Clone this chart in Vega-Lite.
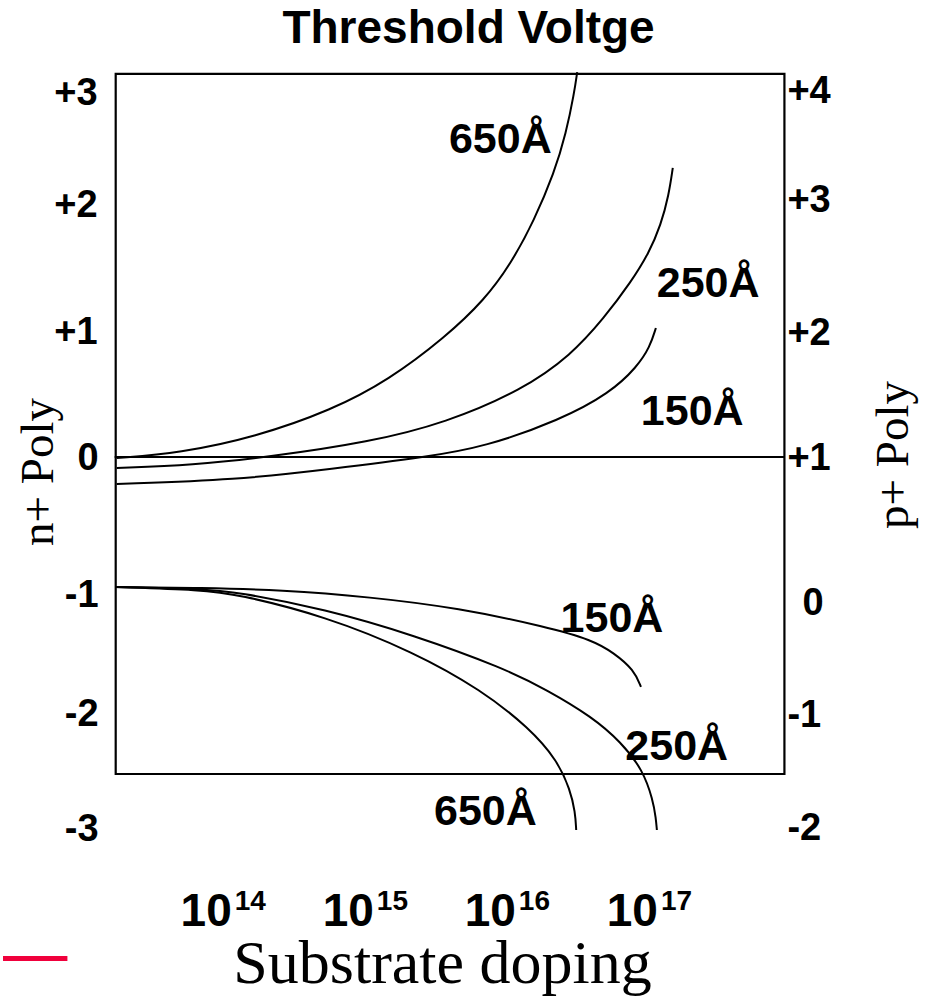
{
  "$schema": "https://vega.github.io/schema/vega-lite/v6.json",
  "width": 930,
  "height": 997,
  "autosize": {"type": "fit", "contains": "padding"},
  "padding": 0,
  "background": "#ffffff",
  "config": {"view": {"stroke": null}},
  "datasets": {
    "box": [{"lx": 13.218, "lx2": 17.926, "v": 3.016, "v2": -2.496}],
    "zero": [{"lx": 13.211, "lx2": 17.926, "v": 0}],
    "red": [{"lx": 12.4246, "lx2": 12.878, "v": -3.949}],
    "curves": [
      {"series": "650 upper", "lx": 13.225, "v": -0.008},
      {"series": "650 upper", "lx": 13.667, "v": 0.031},
      {"series": "650 upper", "lx": 14.2, "v": 0.157},
      {"series": "650 upper", "lx": 14.74, "v": 0.37},
      {"series": "650 upper", "lx": 15.14, "v": 0.606},
      {"series": "650 upper", "lx": 15.54, "v": 0.945},
      {"series": "650 upper", "lx": 15.814, "v": 1.236},
      {"series": "650 upper", "lx": 16.004, "v": 1.528},
      {"series": "650 upper", "lx": 16.165, "v": 1.866},
      {"series": "650 upper", "lx": 16.305, "v": 2.236},
      {"series": "650 upper", "lx": 16.389, "v": 2.551},
      {"series": "650 upper", "lx": 16.446, "v": 2.866},
      {"series": "650 upper", "lx": 16.467, "v": 3.031},
      {"series": "250 upper", "lx": 13.225, "v": -0.087},
      {"series": "250 upper", "lx": 13.758, "v": -0.063},
      {"series": "250 upper", "lx": 14.298, "v": 0.0},
      {"series": "250 upper", "lx": 15.007, "v": 0.118},
      {"series": "250 upper", "lx": 15.54, "v": 0.268},
      {"series": "250 upper", "lx": 16.081, "v": 0.528},
      {"series": "250 upper", "lx": 16.425, "v": 0.803},
      {"series": "250 upper", "lx": 16.656, "v": 1.094},
      {"series": "250 upper", "lx": 16.846, "v": 1.378},
      {"series": "250 upper", "lx": 16.972, "v": 1.606},
      {"series": "250 upper", "lx": 17.056, "v": 1.827},
      {"series": "250 upper", "lx": 17.112, "v": 2.063},
      {"series": "250 upper", "lx": 17.14, "v": 2.276},
      {"series": "150 upper", "lx": 13.225, "v": -0.213},
      {"series": "150 upper", "lx": 14.067, "v": -0.181},
      {"series": "150 upper", "lx": 14.74, "v": -0.094},
      {"series": "150 upper", "lx": 15.407, "v": 0.0},
      {"series": "150 upper", "lx": 15.814, "v": 0.079},
      {"series": "150 upper", "lx": 16.347, "v": 0.291},
      {"series": "150 upper", "lx": 16.698, "v": 0.504},
      {"series": "150 upper", "lx": 16.888, "v": 0.709},
      {"series": "150 upper", "lx": 16.979, "v": 0.866},
      {"series": "150 upper", "lx": 17.021, "v": 1.016},
      {"series": "150 lower", "lx": 13.218, "v": -1.024},
      {"series": "150 lower", "lx": 13.828, "v": -1.031},
      {"series": "150 lower", "lx": 14.382, "v": -1.047},
      {"series": "150 lower", "lx": 15.007, "v": -1.102},
      {"series": "150 lower", "lx": 15.632, "v": -1.189},
      {"series": "150 lower", "lx": 16.256, "v": -1.339},
      {"series": "150 lower", "lx": 16.572, "v": -1.441},
      {"series": "150 lower", "lx": 16.726, "v": -1.543},
      {"series": "150 lower", "lx": 16.867, "v": -1.677},
      {"series": "150 lower", "lx": 16.916, "v": -1.811},
      {"series": "250 lower", "lx": 13.218, "v": -1.024},
      {"series": "250 lower", "lx": 13.828, "v": -1.039},
      {"series": "250 lower", "lx": 14.067, "v": -1.063},
      {"series": "250 lower", "lx": 14.691, "v": -1.197},
      {"series": "250 lower", "lx": 15.316, "v": -1.402},
      {"series": "250 lower", "lx": 15.947, "v": -1.661},
      {"series": "250 lower", "lx": 16.256, "v": -1.835},
      {"series": "250 lower", "lx": 16.572, "v": -2.047},
      {"series": "250 lower", "lx": 16.775, "v": -2.244},
      {"series": "250 lower", "lx": 16.93, "v": -2.465},
      {"series": "250 lower", "lx": 17.0, "v": -2.701},
      {"series": "250 lower", "lx": 17.021, "v": -2.843},
      {"series": "250 lower", "lx": 17.028, "v": -2.937},
      {"series": "650 lower", "lx": 13.218, "v": -1.024},
      {"series": "650 lower", "lx": 13.828, "v": -1.047},
      {"series": "650 lower", "lx": 14.067, "v": -1.079},
      {"series": "650 lower", "lx": 14.691, "v": -1.252},
      {"series": "650 lower", "lx": 15.316, "v": -1.535},
      {"series": "650 lower", "lx": 15.793, "v": -1.835},
      {"series": "650 lower", "lx": 16.13, "v": -2.134},
      {"series": "650 lower", "lx": 16.326, "v": -2.386},
      {"series": "650 lower", "lx": 16.418, "v": -2.622},
      {"series": "650 lower", "lx": 16.453, "v": -2.795},
      {"series": "650 lower", "lx": 16.46, "v": -2.937}
    ],
    "leftTicks": [
      {"label": "+3", "lx": 13.091, "v": 2.772},
      {"label": "+2", "lx": 13.091, "v": 1.89},
      {"label": "+1", "lx": 13.091, "v": 0.89},
      {"label": "0", "lx": 13.098, "v": -0.102},
      {"label": "-1", "lx": 13.098, "v": -1.181},
      {"label": "-2", "lx": 13.098, "v": -2.118},
      {"label": "-3", "lx": 13.098, "v": -3.024}
    ],
    "rightTicks": [
      {"label": "+4", "lx": 17.947, "v": 2.787},
      {"label": "+3", "lx": 17.947, "v": 1.93},
      {"label": "+2", "lx": 17.947, "v": 0.882},
      {"label": "+1", "lx": 17.947, "v": -0.102},
      {"label": "0", "lx": 18.053, "v": -1.244},
      {"label": "-1", "lx": 17.947, "v": -2.126},
      {"label": "-2", "lx": 17.947, "v": -3.016}
    ],
    "curveLabels": [
      {"label": "650Å", "lx": 15.926, "v": 2.394},
      {"label": "250Å", "lx": 17.389, "v": 1.26},
      {"label": "150Å", "lx": 17.277, "v": 0.252},
      {"label": "150Å", "lx": 16.712, "v": -1.378},
      {"label": "250Å", "lx": 17.168, "v": -2.386},
      {"label": "650Å", "lx": 15.821, "v": -2.898}
    ],
    "xTicks": [
      {"base": "10", "exp": "14", "lx": 14, "v": -3.693},
      {"base": "10", "exp": "15", "lx": 15, "v": -3.693},
      {"base": "10", "exp": "16", "lx": 16, "v": -3.693},
      {"base": "10", "exp": "17", "lx": 17, "v": -3.693}
    ],
    "title": [{"label": "Threshold Voltge", "lx": 15.702, "v": 3.26}],
    "xTitle": [{"label": "Substrate doping", "lx": 15.519, "v": -4.142}],
    "yTitles": [
      {"label": "n+ Poly", "lx": 12.775, "v": -0.118},
      {"label": "p+ Poly", "lx": 18.796, "v": 0.016}
    ]
  },
  "encoding": {
    "x": {"field": "lx", "type": "quantitative", "scale": {"domain": [12.42456, 18.95088], "nice": false, "zero": false}, "axis": null},
    "y": {"field": "v", "type": "quantitative", "scale": {"domain": [-4.252, 3.5984], "nice": false, "zero": false}, "axis": null}
  },
  "layer": [
    {
      "data": {"name": "box"},
      "mark": {"type": "rect", "fill": "transparent", "stroke": "#000000", "strokeWidth": 2.2},
      "encoding": {"x2": {"field": "lx2"}, "y2": {"field": "v2"}}
    },
    {
      "data": {"name": "zero"},
      "mark": {"type": "rule", "color": "#000000", "strokeWidth": 2},
      "encoding": {"x2": {"field": "lx2"}}
    },
    {
      "data": {"name": "red"},
      "mark": {"type": "rule", "color": "#f0003c", "strokeWidth": 5, "strokeCap": "butt"},
      "encoding": {"x2": {"field": "lx2"}}
    },
    {
      "data": {"name": "curves"},
      "mark": {"type": "line", "color": "#000000", "strokeWidth": 2, "interpolate": "basis"},
      "encoding": {"detail": {"field": "series"}}
    },
    {
      "data": {"name": "leftTicks"},
      "mark": {"type": "text", "font": "Liberation Sans", "fontWeight": "bold", "fontSize": 38, "align": "right", "baseline": "alphabetic", "color": "#000000"},
      "encoding": {"text": {"field": "label"}}
    },
    {
      "data": {"name": "rightTicks"},
      "mark": {"type": "text", "font": "Liberation Sans", "fontWeight": "bold", "fontSize": 38, "align": "left", "baseline": "alphabetic", "color": "#000000"},
      "encoding": {"text": {"field": "label"}}
    },
    {
      "data": {"name": "curveLabels"},
      "mark": {"type": "text", "font": "Liberation Sans", "fontWeight": "bold", "fontSize": 43, "align": "center", "baseline": "alphabetic", "color": "#000000"},
      "encoding": {"text": {"field": "label"}}
    },
    {
      "data": {"name": "xTicks"},
      "mark": {"type": "text", "font": "Liberation Sans", "fontWeight": "bold", "fontSize": 46, "align": "right", "baseline": "alphabetic", "dx": 5, "color": "#000000"},
      "encoding": {"text": {"field": "base"}}
    },
    {
      "data": {"name": "xTicks"},
      "mark": {"type": "text", "font": "Liberation Sans", "fontWeight": "bold", "fontSize": 28, "align": "left", "baseline": "alphabetic", "dx": 8, "dy": -16, "color": "#000000"},
      "encoding": {"text": {"field": "exp"}}
    },
    {
      "data": {"name": "title"},
      "mark": {"type": "text", "font": "Liberation Sans", "fontWeight": "bold", "fontSize": 46, "align": "center", "baseline": "alphabetic", "color": "#000000"},
      "encoding": {"text": {"field": "label"}}
    },
    {
      "data": {"name": "xTitle"},
      "mark": {"type": "text", "font": "Liberation Serif", "fontSize": 62, "align": "center", "baseline": "alphabetic", "color": "#000000"},
      "encoding": {"text": {"field": "label"}}
    },
    {
      "data": {"name": "yTitles"},
      "mark": {"type": "text", "font": "Liberation Serif", "fontSize": 47, "angle": 270, "align": "center", "baseline": "alphabetic", "color": "#000000"},
      "encoding": {"text": {"field": "label"}}
    }
  ]
}
